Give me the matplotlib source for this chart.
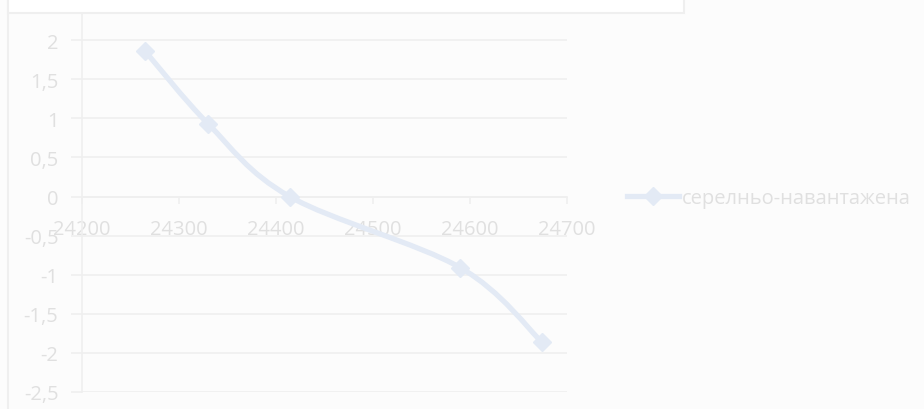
import matplotlib
matplotlib.use("Agg")
import matplotlib.pyplot as plt
import numpy as np
from matplotlib.path import Path
from matplotlib.patches import PathPatch, Rectangle
from matplotlib.lines import Line2D

# data
x_vals = [24265, 24330, 24414, 24590, 24674]
y_vals = [1.86, 0.93, 0.0, -0.91, -1.86]
series_name = "серелньо-навантажена"
x_ticks = [24200, 24300, 24400, 24500, 24600, 24700]
y_ticks = [2.5, 2, 1.5, 1, 0.5, 0, -0.5, -1, -1.5, -2, -2.5]

TEXT = "#E0E0E0"
GRID = "#EFEFEF"
LINE = "#E3EAF5"
BG = "#FCFCFC"

plt.rcParams['font.family'] = ['Open Sans', 'DejaVu Sans']

fig = plt.figure(figsize=(9.24, 4.10), dpi=100, facecolor=BG)
ax = fig.add_axes([82/924, 17/410, 485/924, 391/410])
ax.set_facecolor(BG)

ax.set_xlim(24200, 24700)
ax.set_ylim(-2.5, 2.5)
ax.set_xticks(x_ticks)
ax.set_xticklabels([str(v) for v in x_ticks])
ax.set_yticks(y_ticks)
ax.set_yticklabels([("%g" % v).replace('.', ',') if v != 2.5 else "" for v in y_ticks])

ax.grid(axis='y', color=GRID, linewidth=1.2)
ax.set_axisbelow(True)
for s in ['top', 'right']:
    ax.spines[s].set_visible(False)
ax.spines['left'].set_color(GRID)
ax.spines['left'].set_linewidth(1.2)

ax.tick_params(axis='y', length=8, color=GRID, width=1.2, labelcolor=TEXT, labelsize=14.5, pad=9)
ax.tick_params(axis='x', length=5, color=GRID, width=1.2, labelcolor=TEXT, labelsize=14.5, pad=11, direction='out')
# x axis crosses at zero
ax.spines['bottom'].set_position(('data', 0))
ax.spines['bottom'].set_color(GRID)
ax.spines['bottom'].set_linewidth(1.2)

# smoothed line (Bezier through the data points)
px = np.array(x_vals, dtype=float)
py = np.array(y_vals, dtype=float)
n = len(px)
verts = [(px[0], py[0])]
codes = [Path.MOVETO]
for i in range(n - 1):
    p0 = np.array([px[max(i - 1, 0)], py[max(i - 1, 0)]])
    p1 = np.array([px[i], py[i]])
    p2 = np.array([px[i + 1], py[i + 1]])
    p3 = np.array([px[min(i + 2, n - 1)], py[min(i + 2, n - 1)]])
    c1 = p1 + (p2 - p0) / 6
    c2 = p2 - (p3 - p1) / 6
    verts += [tuple(c1), tuple(c2), tuple(p2)]
    codes += [Path.CURVE4] * 3
ax.add_patch(PathPatch(Path(verts, codes), facecolor='none', edgecolor=LINE, linewidth=3.8, zorder=3, clip_on=False))
ax.plot(x_vals, y_vals, linestyle='none', marker='D', markersize=9.5, color=LINE, zorder=4, clip_on=False)

# legend
handle = Line2D([], [], color=LINE, linewidth=3.8, marker='D', markersize=9.5)
leg = fig.legend([handle], [series_name], loc='center left', bbox_to_anchor=(619/924, 1 - 199/410),
                 frameon=False, fontsize=14.5, handlelength=2.6, handletextpad=0.1, borderaxespad=0)
for t in leg.get_texts():
    t.set_color(TEXT)

# chart frame pieces
fig.add_artist(Rectangle((8/924, 396/410), 676/924, 20/410, transform=fig.transFigure,
                         facecolor='white', edgecolor=GRID, linewidth=1.5, zorder=10))
fig.add_artist(Line2D([8/924, 8/924], [0, 1], transform=fig.transFigure, color=GRID, linewidth=1.5, zorder=9))

fig.savefig("out.png", dpi=100, facecolor=BG)
